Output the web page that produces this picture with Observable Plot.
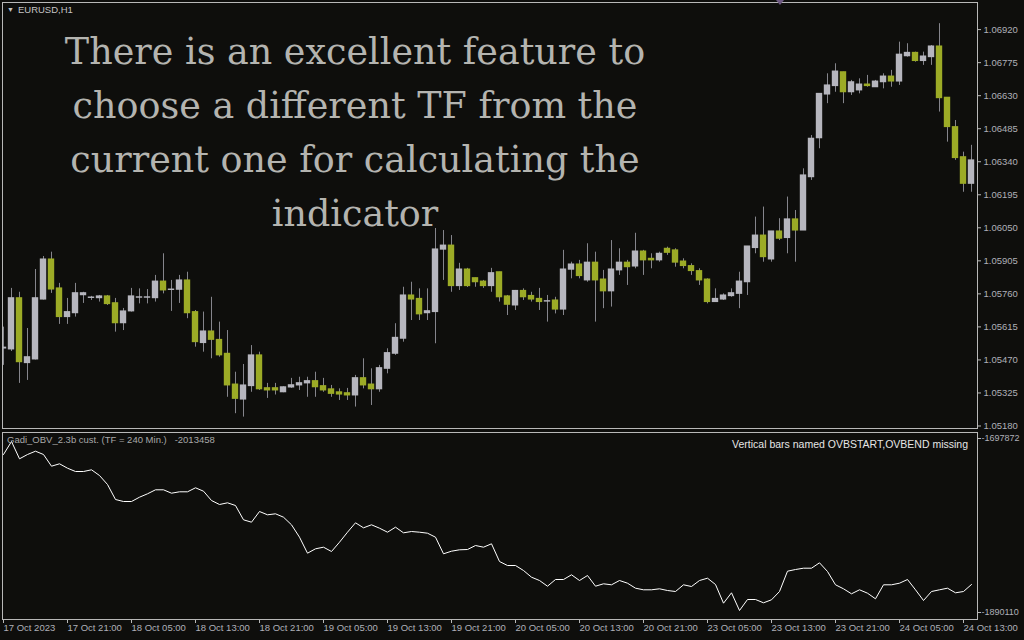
<!DOCTYPE html>
<html>
<head>
<meta charset="utf-8">
<script src="https://cdn.jsdelivr.net/npm/d3@7"></script>
<script src="https://cdn.jsdelivr.net/npm/@observablehq/plot@0.6"></script>
<style>
  html, body { margin: 0; padding: 0; background: #0e0e0c; }
  #chart { position: relative; width: 1024px; height: 640px; overflow: hidden; background: #0e0e0c;
           font-family: "Liberation Sans", Arial, sans-serif; }
  #chart svg { position: absolute; left: 0; overflow: visible; }
  .symbol { position: absolute; left: 7px; top: 4px; font-size: 9.5px; color: #c4c4c4; white-space: nowrap; }
  .symbol .arrow { font-size: 7px; margin-right: 4px; position: relative; top: -1px; }
  .note { position: absolute; left: 0; top: 25px; width: 710px; text-align: center;
          font-family: "DejaVu Serif", serif; font-size: 36.5px; line-height: 54px; color: #b4b4b0; }
  .ind-name { position: absolute; left: 7px; top: 434px; font-size: 9.5px; color: #a8a8a8; white-space: nowrap; }
  .ind-msg { position: absolute; right: 56px; top: 438px; font-size: 10.5px; color: #e6e6e6; white-space: nowrap; }
  .shift { position: absolute; left: 776px; top: 0; width: 0; height: 0;
           border-left: 4px solid transparent; border-right: 4px solid transparent; border-top: 5px solid #6e5a82; }
</style>
</head>
<body>
<div id="chart">
  <div class="symbol"><span class="arrow">▼</span>EURUSD,H1</div>
</div>
<script>
// EURUSD hourly candles, one entry per bar (oldest first)
const opens = [
  1.05520, 1.05516, 1.05741, 1.05456, 1.05472, 1.05735, 1.05911, 1.05784, 1.05658, 1.05675,
  1.05754, 1.05742, 1.05741, 1.05749, 1.05719, 1.05631, 1.05683, 1.05743, 1.05743, 1.05741,
  1.05814, 1.05777, 1.05778, 1.05819, 1.05680, 1.05544, 1.05595, 1.05558, 1.05497, 1.05362,
  1.05296, 1.05355, 1.05490, 1.05346, 1.05346, 1.05328, 1.05349, 1.05358, 1.05367, 1.05377,
  1.05355, 1.05341, 1.05328, 1.05324, 1.05314, 1.05390, 1.05362, 1.05341, 1.05431, 1.05497,
  1.05563, 1.05753, 1.05738, 1.05675, 1.05680, 1.05954, 1.05972, 1.05794, 1.05867, 1.05829,
  1.05814, 1.05794, 1.05855, 1.05749, 1.05709, 1.05773, 1.05751, 1.05738, 1.05726, 1.05731,
  1.05691, 1.05866, 1.05889, 1.05819, 1.05897, 1.05823, 1.05771, 1.05863, 1.05897, 1.05880,
  1.05946, 1.05914, 1.05907, 1.05958, 1.05951, 1.05902, 1.05882, 1.05860, 1.05823, 1.05724,
  1.05735, 1.05750, 1.05760, 1.05811, 1.05961, 1.06016, 1.05911, 1.06034, 1.06005, 1.06087,
  1.06038, 1.06272, 1.06443, 1.06635, 1.06672, 1.06733, 1.06645, 1.06653, 1.06679, 1.06667,
  1.06689, 1.06714, 1.06692, 1.06803, 1.06818, 1.06782, 1.06799, 1.06846, 1.06621, 1.06492,
  1.06360, 1.06243
];
const highs = [
  1.05614, 1.05784, 1.05767, 1.05608, 1.05867, 1.05924, 1.05943, 1.05806, 1.05740, 1.05806,
  1.05767, 1.05749, 1.05753, 1.05753, 1.05740, 1.05696, 1.05784, 1.05782, 1.05779, 1.05841,
  1.05936, 1.05819, 1.05841, 1.05855, 1.05687, 1.05680, 1.05745, 1.05636, 1.05599, 1.05416,
  1.05450, 1.05533, 1.05504, 1.05367, 1.05367, 1.05352, 1.05389, 1.05394, 1.05394, 1.05416,
  1.05389, 1.05358, 1.05343, 1.05345, 1.05402, 1.05475, 1.05431, 1.05446, 1.05519, 1.05629,
  1.05789, 1.05811, 1.05782, 1.05782, 1.06047, 1.06038, 1.06016, 1.05894, 1.05872, 1.05829,
  1.05819, 1.05872, 1.05855, 1.05753, 1.05775, 1.05782, 1.05767, 1.05784, 1.05753, 1.05745,
  1.05951, 1.05899, 1.05907, 1.05980, 1.05943, 1.05863, 1.05994, 1.05958, 1.05907, 1.06026,
  1.05951, 1.05936, 1.05943, 1.05965, 1.05958, 1.05914, 1.05892, 1.05870, 1.05826, 1.05782,
  1.05760, 1.05782, 1.05855, 1.05968, 1.06097, 1.06141, 1.06034, 1.06090, 1.06185, 1.06126,
  1.06309, 1.06455, 1.06638, 1.06726, 1.06770, 1.06733, 1.06697, 1.06704, 1.06719, 1.06697,
  1.06726, 1.06741, 1.06865, 1.06858, 1.06821, 1.06821, 1.06850, 1.06946, 1.06621, 1.06521,
  1.06382, 1.06412
];
const lows = [
  1.05446, 1.05507, 1.05367, 1.05380, 1.05470, 1.05733, 1.05762, 1.05626, 1.05626, 1.05658,
  1.05718, 1.05731, 1.05724, 1.05709, 1.05592, 1.05599, 1.05680, 1.05716, 1.05716, 1.05724,
  1.05760, 1.05683, 1.05718, 1.05651, 1.05526, 1.05504, 1.05475, 1.05482, 1.05306, 1.05234,
  1.05219, 1.05328, 1.05336, 1.05301, 1.05316, 1.05326, 1.05345, 1.05336, 1.05306, 1.05306,
  1.05328, 1.05306, 1.05292, 1.05292, 1.05263, 1.05343, 1.05270, 1.05328, 1.05409, 1.05490,
  1.05548, 1.05643, 1.05643, 1.05643, 1.05541, 1.05819, 1.05767, 1.05775, 1.05788, 1.05789,
  1.05784, 1.05767, 1.05724, 1.05665, 1.05687, 1.05731, 1.05724, 1.05687, 1.05636, 1.05672,
  1.05665, 1.05826, 1.05826, 1.05811, 1.05636, 1.05695, 1.05702, 1.05841, 1.05797, 1.05870,
  1.05841, 1.05870, 1.05899, 1.05929, 1.05877, 1.05870, 1.05841, 1.05797, 1.05716, 1.05724,
  1.05731, 1.05745, 1.05695, 1.05753, 1.05936, 1.05899, 1.05899, 1.05994, 1.05936, 1.05899,
  1.06038, 1.06258, 1.06397, 1.06595, 1.06645, 1.06595, 1.06631, 1.06638, 1.06667, 1.06667,
  1.06660, 1.06667, 1.06675, 1.06799, 1.06777, 1.06763, 1.06763, 1.06558, 1.06426, 1.06346,
  1.06206, 1.06206
];
const closes = [
  1.05524, 1.05741, 1.05460, 1.05482, 1.05741, 1.05911, 1.05779, 1.05658, 1.05680, 1.05763,
  1.05763, 1.05744, 1.05749, 1.05715, 1.05631, 1.05683, 1.05749, 1.05745, 1.05745, 1.05814,
  1.05775, 1.05779, 1.05819, 1.05675, 1.05548, 1.05595, 1.05558, 1.05490, 1.05358, 1.05299,
  1.05358, 1.05490, 1.05341, 1.05336, 1.05336, 1.05350, 1.05359, 1.05368, 1.05377, 1.05350,
  1.05336, 1.05321, 1.05318, 1.05314, 1.05390, 1.05358, 1.05341, 1.05434, 1.05500, 1.05567,
  1.05753, 1.05735, 1.05670, 1.05684, 1.05955, 1.05972, 1.05794, 1.05867, 1.05794, 1.05811,
  1.05794, 1.05851, 1.05745, 1.05712, 1.05773, 1.05745, 1.05735, 1.05724, 1.05728, 1.05691,
  1.05867, 1.05889, 1.05838, 1.05897, 1.05819, 1.05771, 1.05867, 1.05897, 1.05877, 1.05946,
  1.05907, 1.05907, 1.05936, 1.05940, 1.05897, 1.05882, 1.05860, 1.05819, 1.05724, 1.05738,
  1.05753, 1.05763, 1.05814, 1.05968, 1.06016, 1.05921, 1.06034, 1.06002, 1.06087, 1.06038,
  1.06280, 1.06441, 1.06638, 1.06675, 1.06736, 1.06645, 1.06689, 1.06679, 1.06672, 1.06692,
  1.06714, 1.06692, 1.06810, 1.06818, 1.06782, 1.06802, 1.06846, 1.06619, 1.06492, 1.06356,
  1.06243, 1.06346
];

// On-balance volume (Gadi OBV, TF = 240 min), one value per H1 bar
const obv = [
  -1715549, -1701186, -1720299, -1715549, -1711903, -1715549, -1728475, -1725823, -1730685, -1734330,
  -1734330, -1732452, -1738750, -1748693, -1765265, -1767474, -1767474, -1762724, -1758967, -1754548,
  -1754548, -1758305, -1756758, -1756758, -1752339, -1756095, -1766370, -1770789, -1768911, -1771894,
  -1787692, -1790344, -1778522, -1782168, -1781063, -1784820, -1793216, -1806916, -1824593, -1819731,
  -1817964, -1822714, -1812440, -1801390, -1791007, -1796531, -1793216, -1796973, -1801390, -1795868,
  -1802055, -1800618, -1801390, -1802497, -1806916, -1825255, -1822383, -1820836, -1820505, -1816086,
  -1817964, -1814207, -1833762, -1838182, -1838182, -1843706, -1851108, -1854754, -1861051, -1853649,
  -1853649, -1848456, -1854754, -1849230, -1861051, -1858399, -1859504, -1854754, -1857737, -1863261,
  -1865028, -1865028, -1863923, -1865802, -1866906, -1859504, -1861382, -1854754, -1852213, -1859173,
  -1879833, -1868343, -1887898, -1875745, -1875745, -1879390, -1876076, -1866906, -1844479, -1842601,
  -1841165, -1841165, -1835199, -1844810, -1859504, -1863923, -1869447, -1865028, -1868783, -1874971,
  -1859504, -1859504, -1857737, -1853649, -1865028, -1876850, -1866906, -1865028, -1863261, -1868343,
  -1866906, -1859173
];

// Time-axis labels, one every 8 bars
const timeLabels = [
  "17 Oct 2023", "17 Oct 21:00", "18 Oct 05:00", "18 Oct 13:00", "18 Oct 21:00", "19 Oct 05:00",
  "19 Oct 13:00", "19 Oct 21:00", "20 Oct 05:00", "20 Oct 13:00", "20 Oct 21:00", "23 Oct 05:00",
  "23 Oct 13:00", "23 Oct 21:00", "24 Oct 05:00", "24 Oct 13:00"
];
const priceTicks = [
  1.05180, 1.05325, 1.05470, 1.05615, 1.05760, 1.05905, 1.06050,
  1.06195, 1.06340, 1.06485, 1.06630, 1.06775, 1.06920
];
const obvTicks = [-1697872, -1890110];

const noteLines = [
  "There is an excellent feature to",
  "choose a different TF from the",
  "current one for calculating the",
  "indicator"
];

const bars = opens.map((o, i) => ({i, open: o, high: highs[i], low: lows[i], close: closes[i]}));
const obvData = obv.map((v, i) => ({i, v}));
const tickIndex = timeLabels.map((_, k) => k * 8);

const BULL = "#b6b6be", BEAR = "#9cab26", WICK = "#85858c";
const FRAME = "#b8b8b8", TEXT = "#aeb0b8";
const xDomain = [-0.125, 121.75];

const baseStyle = {background: "transparent", color: TEXT, fontFamily: "'Liberation Sans', Arial, sans-serif", fontSize: "9.5px"};

const chart = document.getElementById("chart");

// Price panel with candlesticks
const pricePlot = Plot.plot({
  width: 1024, height: 431,
  marginLeft: 2, marginRight: 47, marginTop: 2, marginBottom: 3,
  style: baseStyle,
  x: {domain: xDomain, axis: null},
  y: {domain: [1.05169, 1.07039], axis: null},
  marks: [
    Plot.ruleX(bars, {x: "i", y1: "low", y2: "high", stroke: WICK, strokeWidth: 1, clip: true}),
    Plot.rect(bars, {
      x1: d => d.i - 0.4, x2: d => d.i + 0.4,
      y1: "open", y2: "close",
      fill: d => d.close >= d.open ? BULL : BEAR,
      insetTop: -0.5, insetBottom: -0.5, clip: true
    }),
    Plot.frame({stroke: FRAME}),
    Plot.axisY(priceTicks, {anchor: "right", label: null, tickSize: 3, tickPadding: 3,
      tickFormat: d => d.toFixed(5), stroke: FRAME, fill: TEXT})
  ]
});
pricePlot.style.top = "0px";
chart.appendChild(pricePlot);

// OBV sub-window with the shared time axis
const obvPlot = Plot.plot({
  width: 1024, height: 209,
  marginLeft: 2, marginRight: 47, marginTop: 1, marginBottom: 21,
  style: baseStyle,
  x: {domain: xDomain, axis: null},
  y: {domain: [-1897841, -1691243], axis: null},
  marks: [
    Plot.line(obvData, {x: "i", y: "v", stroke: "#ffffff", strokeWidth: 1, clip: true}),
    Plot.frame({stroke: FRAME}),
    Plot.axisY(obvTicks, {anchor: "right", label: null, tickSize: 3, tickPadding: 1, fontSize: 9,
      tickFormat: d => String(d), stroke: FRAME, fill: TEXT}),
    Plot.axisX(tickIndex, {anchor: "bottom", label: null, tickSize: 4, tickPadding: 1, textAnchor: "start",
      tickFormat: d => timeLabels[d / 8], stroke: FRAME, fill: TEXT})
  ]
});
obvPlot.style.top = "431px";
chart.appendChild(obvPlot);

// Text overlays
const note = document.createElement("div");
note.className = "note";
note.innerHTML = noteLines.map(s => `<div>${s}</div>`).join("");
chart.appendChild(note);

const indName = document.createElement("div");
indName.className = "ind-name";
indName.textContent = "Gadi_OBV_2.3b cust. (TF = 240 Min.)\u00a0\u00a0\u00a0-2013458";
chart.appendChild(indName);

const indMsg = document.createElement("div");
indMsg.className = "ind-msg";
indMsg.textContent = "Vertical bars named OVBSTART,OVBEND missing";
chart.appendChild(indMsg);

const shift = document.createElement("div");
shift.className = "shift";
chart.appendChild(shift);
</script>
</body>
</html>
